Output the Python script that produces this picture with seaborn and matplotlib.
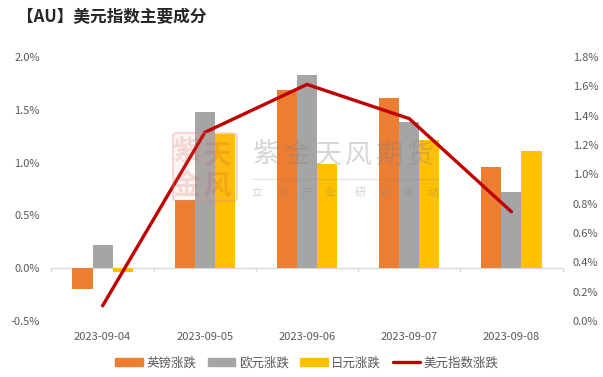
import matplotlib
matplotlib.use("Agg")
import matplotlib.pyplot as plt
from matplotlib.patches import FancyBboxPatch
from matplotlib.ticker import FuncFormatter
from matplotlib.lines import Line2D
from matplotlib.patches import Patch
import pandas as pd
import seaborn as sns

dates = ["2023-09-04", "2023-09-05", "2023-09-06", "2023-09-07", "2023-09-08"]
gbp = [-0.20, 0.645, 1.685, 1.61, 0.955]
eur = [0.22, 1.475, 1.83, 1.38, 0.72]
jpy = [-0.04, 1.27, 0.985, 1.21, 1.108]
dxy = [0.104, 1.286, 1.613, 1.38, 0.745]
names = ["英镑涨跌", "欧元涨跌", "日元涨跌"]
line_name = "美元指数涨跌"
colors = ["#ED7D31", "#A5A5A5", "#FFC000"]
line_color = "#C00000"
title = "【AU】美元指数主要成分"

sns.set_theme(style="white")
FONT = ["Noto Sans CJK SC", "DejaVu Sans"]
plt.rcParams["font.family"] = FONT
TXT = "#595959"

W, H = 603, 377
fig = plt.figure(figsize=(W / 100, H / 100), dpi=100, facecolor="white")
ax = fig.add_axes([51.5 / W, 1 - 321 / H, 511 / W, 264 / H])

df = pd.DataFrame({"date": dates * 3,
                   "name": [n for n in names for _ in dates],
                   "value": gbp + eur + jpy})
sns.barplot(data=df, x="date", y="value", hue="name", hue_order=names,
            palette=colors, width=0.59, saturation=1, gap=0, dodge=True,
            legend=False, ax=ax, linewidth=0, zorder=2)
ax.set_xlim(-0.5, 4.5)
ax.set_ylim(-0.5, 2.0)
ax.set_xlabel("")
ax.set_ylabel("")
ax.yaxis.set_major_formatter(FuncFormatter(lambda v, _: f"{v:.1f}%"))
ax.set_yticks([-0.5, 0, 0.5, 1.0, 1.5, 2.0])
for s in ax.spines.values():
    s.set_visible(False)
ax.axhline(0, color="#D9D9D9", lw=1, zorder=1)
ax.tick_params(axis="y", length=0, labelsize=8, labelcolor=TXT, pad=8.5)
ax.tick_params(axis="x", length=0, labelbottom=False)
for i in range(6):
    ax.plot([i - 0.5] * 2, [0, -0.027], color="#D9D9D9", lw=1, clip_on=False, zorder=1)
for i, d in enumerate(dates):
    ax.text(i, -0.655, d, ha="center", va="center", fontsize=8, color=TXT)

ax2 = ax.twinx()
sns.lineplot(x=list(range(5)), y=dxy, color=line_color, lw=2.4, ax=ax2,
             legend=False, zorder=5, errorbar=None)
ax2.set_xlim(-0.5, 4.5)
ax2.set_ylim(0, 1.8)
ax2.set_yticks([i / 10 for i in range(0, 20, 2)])
ax2.yaxis.set_major_formatter(FuncFormatter(lambda v, _: f"{v:.1f}%"))
ax2.tick_params(axis="y", length=0, labelsize=8, labelcolor=TXT, pad=7.5)
ax2.set_ylabel("")
ax2.grid(False)
for s in ax2.spines.values():
    s.set_visible(False)

fig.text(17 / W, 1 - 17 / H, title, fontsize=12, fontweight="bold",
         color="#262626", ha="left", va="center")

# watermark
seal_fill = FancyBboxPatch((173 / W, 1 - 201 / H), 64 / W, 68 / H,
                           boxstyle="round,pad=0,rounding_size=0.008",
                           transform=fig.transFigure, fc="#E8A8A0", ec="none",
                           alpha=0.10, zorder=10)
seal_edge = FancyBboxPatch((173 / W, 1 - 201 / H), 64 / W, 68 / H,
                           boxstyle="round,pad=0,rounding_size=0.008",
                           transform=fig.transFigure, fc="none", ec="#D98880",
                           alpha=0.30, lw=1.5, zorder=10)
fig.add_artist(seal_fill)
fig.add_artist(seal_edge)
for t, x, y in [("紫", 186, 152), ("天", 217, 156), ("金", 186, 186), ("风", 217, 187)]:
    fig.text(x / W, 1 - y / H, t, fontsize=20, fontweight="bold", color="#C0392B",
             alpha=0.16, ha="center", va="center", zorder=11)
for i, t in enumerate("紫金天风期货"):
    fig.text((266 + i * 31) / W, 1 - 155 / H, t, fontsize=19.5, color="#808080",
             alpha=0.32, ha="center", va="center", zorder=11)
fig.add_artist(Line2D([252 / W, 438 / W], [1 - 179 / H] * 2, transform=fig.transFigure,
                      color="#808080", alpha=0.2, lw=1, zorder=10))
for t, x in zip("立足产业研究驱动", [257, 282, 307, 330, 360, 384, 408, 433]):
    fig.text(x / W, 1 - 193 / H, t, fontsize=8, color="#808080", alpha=0.35,
             ha="center", va="center", zorder=11)

# legend
handles = [Patch(color=c) for c in colors] + [Line2D([], [], color=line_color, lw=2.4)]
leg = fig.legend(handles, names + [line_name], loc="center", ncol=4,
                 bbox_to_anchor=(307 / W, 1 - 363 / H), frameon=False,
                 fontsize=9, labelcolor=TXT, handlelength=2.2, handleheight=0.65,
                 handletextpad=0.25, columnspacing=0.95)
fig.savefig("out.png", dpi=100)
